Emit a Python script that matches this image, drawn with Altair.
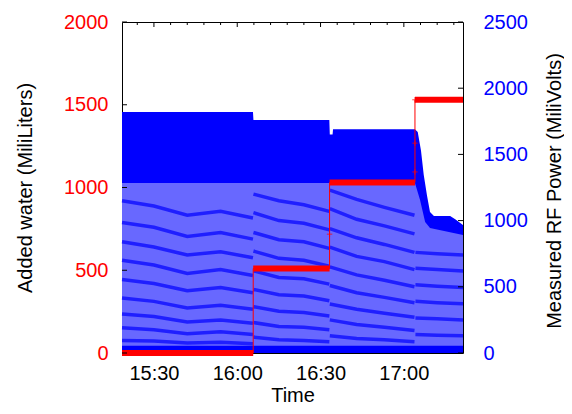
import altair as alt
import pandas as pd


def to_min(s):
    h, m, sec = s.split(":")
    return int(h) * 60 + int(m) + int(sec) / 60.0


# ---- data ----
x_start = "15:18:30"
x_end = "17:21:18"

# upper envelope of the measured RF power (mV)
env_times = ["15:18:30", "16:05:40", "16:05:50", "16:33:10", "16:33:20", "16:34:20",
             "16:34:30", "17:04:00", "17:05:00", "17:06:10", "17:07:10", "17:08:20",
             "17:09:25", "17:10:50", "17:16:40", "17:18:30", "17:21:18"]
env_mv = [1820, 1820, 1760, 1760, 1650, 1650,
          1690, 1690, 1670, 1530, 1345, 1190,
          1065, 1035, 1035, 1010, 967]

# lower edge of the saturated (solid) band (mV)
solid_times = ["15:18:30", "17:04:00", "17:05:50", "17:07:40", "17:09:25", "17:21:18"]
solid_mv = [1284, 1284, 1156, 990, 944, 891]

# dense strip near zero (mV)
strip_times = ["15:18:30", "17:21:18"]
strip_mv = [55, 55]

# darker wavy bands inside the lower region (mV), per water step
seg1_times = ["15:18:30", "15:30:00", "15:42:00", "15:54:00", "16:05:40"]
seg1_bands = [
    [1150, 1110, 1040, 1070, 1020],
    [985, 950, 880, 910, 860],
    [840, 800, 740, 765, 720],
    [700, 665, 600, 630, 585],
    [555, 525, 470, 495, 455],
    [415, 390, 340, 360, 330],
    [295, 275, 235, 250, 225],
    [190, 175, 145, 160, 140],
    [95, 90, 75, 82, 70],
]
seg2_times = ["16:05:50", "16:15:00", "16:24:00", "16:33:10"]
seg2_bands = [
    [1200, 1150, 1120, 1070],
    [1060, 1000, 980, 930],
    [910, 855, 840, 790],
    [770, 715, 700, 655],
    [620, 570, 560, 520],
    [480, 440, 430, 395],
    [350, 315, 305, 280],
    [230, 200, 195, 175],
    [120, 100, 95, 85],
]
seg3_times = ["16:33:20", "16:43:00", "16:53:00", "17:03:50"]
seg3_bands = [
    [1230, 1160, 1100, 1040],
    [1090, 1010, 960, 900],
    [940, 870, 820, 760],
    [800, 730, 690, 630],
    [650, 590, 550, 500],
    [510, 455, 420, 380],
    [370, 330, 300, 270],
    [250, 215, 195, 170],
    [130, 110, 100, 85],
]
seg4_times = ["17:04:10", "17:12:00", "17:21:18"]
seg4_bands = [
    [760, 750, 740],
    [640, 630, 620],
    [515, 505, 495],
    [390, 380, 372],
    [265, 258, 250],
    [140, 135, 130],
]

# added water, step curve (mL)
step_times = ["15:18:30", "16:05:45", "16:33:15", "17:04:00", "17:21:18"]
step_ml = [0, 510, 1030, 1530, 1530]

seg_start = ["15:18:30", "16:05:45", "16:33:15", "17:04:00"]
seg_end = ["16:05:45", "16:33:15", "17:04:00", "17:21:18"]
seg_ml = [0, 510, 1030, 1530]

cross_times = ["16:33:15", "17:04:00", "17:04:00", "17:04:00"]
cross_ml = [718, 1094, 1268, 1530]

# ticks
x_major = ["15:30:00", "16:00:00", "16:30:00", "17:00:00"]
x_minor = ["15:24:00", "15:36:00", "15:42:00", "15:48:00", "15:54:00", "16:06:00",
           "16:12:00", "16:18:00", "16:24:00", "16:36:00", "16:42:00", "16:48:00",
           "16:54:00", "17:06:00", "17:12:00", "17:18:00"]
left_ticks = [0, 500, 1000, 1500, 2000]
right_ticks = [0, 500, 1000, 1500, 2000, 2500]

# ---- tables ----
env_df = pd.DataFrame({"t": [to_min(s) for s in env_times], "mv": env_mv})
solid_df = pd.DataFrame({"t": [to_min(s) for s in solid_times], "mv": solid_mv})
strip_df = pd.DataFrame({"t": [to_min(s) for s in strip_times], "mv": strip_mv})

band_rows = []
for sname, times, bands in [("s1", seg1_times, seg1_bands), ("s2", seg2_times, seg2_bands),
                            ("s3", seg3_times, seg3_bands), ("s4", seg4_times, seg4_bands)]:
    for bi, vals in enumerate(bands):
        for tt, vv in zip(times, vals):
            band_rows.append({"t": to_min(tt), "mv": vv, "k": "%s_%d" % (sname, bi)})
band_df = pd.DataFrame(band_rows)

step_df = pd.DataFrame({"t": [to_min(s) for s in step_times], "ml": step_ml})
seg_df = pd.DataFrame({"t": [to_min(s) for s in seg_start],
                       "t2": [to_min(s) for s in seg_end], "ml": seg_ml})
cross_df = pd.DataFrame({"t": [to_min(s) for s in cross_times], "ml": cross_ml})
xmaj_df = pd.DataFrame({"t": [to_min(s) for s in x_major]})
xmin_df = pd.DataFrame({"t": [to_min(s) for s in x_minor]})
lt_df = pd.DataFrame({"ml": left_ticks})
rt_df = pd.DataFrame({"mv": right_ticks})

W, H = 341, 331
FONT = "Liberation Sans"
BLUE = "#0000ff"
RED = "#ff0000"

xscale = alt.Scale(domain=[to_min(x_start), to_min(x_end)], nice=False, zero=False)
bscale = alt.Scale(domain=[0, 2500], nice=False, zero=False)
rscale = alt.Scale(domain=[0, 2000], nice=False, zero=False)

x_axis = alt.Axis(
    values=[to_min(s) for s in x_major],
    labelExpr="floor(datum.value / 60) + ':' + (datum.value % 60 < 10 ? '0' : '') + (datum.value % 60)",
    title="Time", titleY=48, titleBaseline="alphabetic",
    tickSize=0, domain=False, grid=False, labelPadding=10, labelFlush=False,
    labelFontSize=20, titleFontSize=20, labelFont=FONT, titleFont=FONT,
    labelColor="black", titleColor="black", titleFontWeight="normal",
)

right_axis = alt.Axis(
    orient="right", values=right_ticks, format="d", title="Measured RF Power (MiliVolts)",
    titleAngle=270, titleX=91, titleY=168.5, titleBaseline="middle", titleAlign="center",
    tickSize=0, domain=False, grid=False, labelPadding=20,
    labelFontSize=20, titleFontSize=20, labelFont=FONT, titleFont=FONT,
    labelColor=BLUE, titleColor="black", titleFontWeight="normal",
)

left_axis = alt.Axis(
    orient="left", values=left_ticks, format="d", title="Added water (MiliLiters)",
    titleAngle=270, titleX=-97, titleY=165.5, titleBaseline="middle", titleAlign="center",
    tickSize=0, domain=False, grid=False, labelPadding=14,
    labelFontSize=20, titleFontSize=20, labelFont=FONT, titleFont=FONT,
    labelColor=RED, titleColor="black", titleFontWeight="normal",
)


def X():
    return alt.X("t:Q", scale=xscale, axis=x_axis)


def YB():
    return alt.Y("mv:Q", scale=bscale, axis=None)


def YR():
    return alt.Y("ml:Q", scale=rscale, axis=None)


blue_full = alt.Chart(env_df).mark_area(color=BLUE).encode(
    x=X(), y=alt.Y("mv:Q", scale=bscale, axis=right_axis), y2=alt.datum(0),
)
blue_tex = alt.Chart(solid_df).mark_area(color="#6868ff").encode(x=X(), y=YB(), y2=alt.datum(0))
blue_bands = alt.Chart(band_df).mark_line(color=BLUE, strokeWidth=3.5, opacity=0.7).encode(
    x=X(), y=YB(), detail="k:N"
)
blue_strip = alt.Chart(strip_df).mark_area(color=BLUE).encode(x=X(), y=YB(), y2=alt.datum(0))
rticks = alt.Chart(rt_df).mark_rule(color="black", strokeWidth=1).encode(
    y=YB(), x=alt.value(W - 5), x2=alt.value(W)
)

red_step = alt.Chart(step_df).mark_line(color=RED, strokeWidth=1, interpolate="step-after").encode(
    x=X(), y=alt.Y("ml:Q", scale=rscale, axis=left_axis)
)
red_seg = alt.Chart(seg_df).mark_rule(color=RED, strokeWidth=6, strokeCap="butt", clip=False).encode(
    x=X(), x2="t2:Q", y=YR()
)
red_cross = alt.Chart(cross_df).mark_point(
    shape="M-1,0H1M0,-1V1", size=30, filled=False, color=RED, strokeWidth=1
).encode(x=X(), y=YR())
lticks = alt.Chart(lt_df).mark_rule(color="black", strokeWidth=1).encode(
    y=YR(), x=alt.value(0), x2=alt.value(5)
)
tmaj = alt.Chart(xmaj_df).mark_rule(color="black", strokeWidth=1).encode(
    x=X(), y=alt.value(0), y2=alt.value(5)
)
tmin = alt.Chart(xmin_df).mark_rule(color="black", strokeWidth=1).encode(
    x=X(), y=alt.value(0), y2=alt.value(3)
)

chart = alt.layer(
    blue_full, blue_tex, blue_bands, blue_strip, rticks,
    red_step, red_seg, red_cross, lticks, tmaj, tmin,
).resolve_scale(y="independent").properties(
    width=W, height=H,
    background="white",
    autosize=alt.AutoSizeParams(type="none"),
    padding={"left": 114, "top": 14, "right": 101, "bottom": 53},
).configure_view(stroke="black", strokeWidth=1)

chart.save("out.html", embed_options={"renderer": "svg", "actions": False})
